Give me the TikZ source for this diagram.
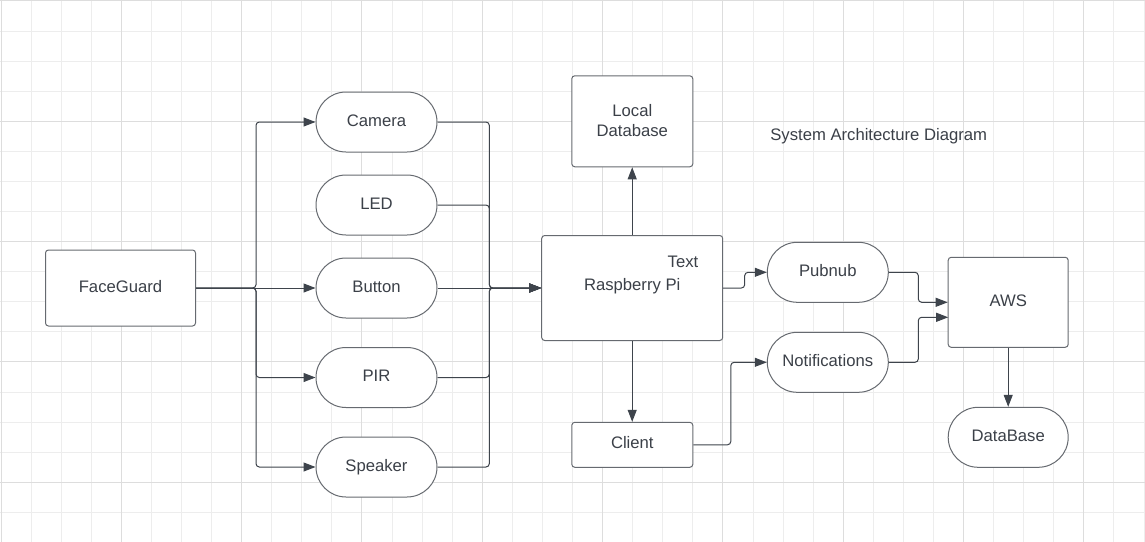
\documentclass[tikz,border=0pt]{standalone}
\usepackage{fontspec}
\setmainfont{Liberation Sans}
\usetikzlibrary{arrows.meta,shapes.misc}
\definecolor{gridminor}{HTML}{EDEDED}
\definecolor{gridmajor}{HTML}{DDDDDD}
\definecolor{shapeline}{HTML}{666A70}
\definecolor{connc}{HTML}{3E444C}
\definecolor{txt}{HTML}{3B4048}
\begin{document}
\begin{tikzpicture}[x=0.75pt,y=-0.75pt,
 every node/.style={font=\fontsize{12.5}{15}\selectfont, text=txt},
 one/.style={text height=9pt, text depth=3pt},
 box/.style={draw=shapeline, line width=0.75pt, fill=white, rounded corners=2.25pt, inner sep=0pt, align=center},
 pill/.style={draw=shapeline, line width=0.75pt, fill=white, rounded rectangle, minimum width=90.75pt, minimum height=45pt, inner sep=0pt, one},
 wire/.style={draw=connc, line width=0.75pt, rounded corners=2.5pt},
 arr/.style={wire, -{Triangle[length=9pt,width=6.75pt]}},
]
\useasboundingbox (0,0) rectangle (1145,542);
\fill[white] (0,0) rectangle (1145,542);
% grid
\foreach \i in {0,...,38} {
  \pgfmathsetmacro\gx{1+30.08*\i}
  \draw[gridminor, line width=0.75pt] (\gx,0) -- (\gx,542);
}
\foreach \j in {0,...,17} {
  \pgfmathsetmacro\gy{1+30.08*\j}
  \draw[gridminor, line width=0.75pt] (0,\gy) -- (1145,\gy);
}
\foreach \i in {0,4,...,36} {
  \pgfmathsetmacro\gx{1+30.08*\i}
  \draw[gridmajor, line width=0.75pt] (\gx,0) -- (\gx,542);
}
\foreach \j in {0,4,...,16} {
  \pgfmathsetmacro\gy{1+30.08*\j}
  \draw[gridmajor, line width=0.75pt] (0,\gy) -- (1145,\gy);
}
% nodes
\node[box, one, minimum width=112.5pt, minimum height=57pt] (fg) at (120.5,288) {FaceGuard};
\node[pill] (cam) at (376.5,122) {Camera};
\node[pill] (led) at (376.5,205) {LED};
\node[pill] (btn) at (376.5,288) {Button};
\node[pill] (pir) at (376.5,377.5) {PIR};
\node[pill] (spk) at (376.5,467) {Speaker};
\node[box, one, minimum width=135.75pt, minimum height=78.75pt] (rpi) at (632.2,288) {\raisebox{1.5pt}{Raspberry Pi}};
\node[one] (txtlbl) at (683,263) {Text};
\node[box, minimum width=90.75pt, minimum height=68.25pt] (ldb) at (632.3,121.3) {\raisebox{1.5pt}{Local}\\\raisebox{1.5pt}{Database}};
\node[box, one, minimum width=90.75pt, minimum height=33.75pt] (cli) at (632.3,444.8) {Client};
\node[pill] (pub) at (827.8,272.3) {Pubnub};
\node[pill] (noti) at (827.8,362.3) {Notifications};
\node[box, one, minimum width=90pt, minimum height=67.5pt] (aws) at (1008.2,302.3) {AWS};
\node[pill, minimum width=90pt] (db) at (1008.2,437.3) {DataBase};
\node[one] (title) at (878.7,136) {System Architecture Diagram};
% bus coordinates
\coordinate (lbus) at (256,288);
\coordinate (rbus) at (489.3,288);
\coordinate (awsin) at (948.2,317.3);
% connectors
\draw[arr] (fg.east) -- (lbus) |- (cam.west);
\draw[arr] (fg.east) -- (btn.west);
\draw[arr] (fg.east) -- (lbus) |- (pir.west);
\draw[arr] (fg.east) -- (lbus) |- (spk.west);
\draw[arr] (cam.east) -| (rbus) -- (rpi.west);
\draw[arr] (led.east) -| (rbus) -- (rpi.west);
\draw[arr] (btn.east) -- (rpi.west);
\draw[arr] (pir.east) -| (rbus) -- (rpi.west);
\draw[arr] (spk.east) -| (rbus) -- (rpi.west);
\draw[arr] (rpi.north) -- (rpi.north |- ldb.south);
\draw[arr] (rpi.south) -- (rpi.south |- cli.north);
\draw[arr] (rpi.east) -- ++(21.5,0) |- (pub.west);
\draw[arr] (cli.east) -- ++(37.5,0) |- (noti.west);
\draw[arr] (pub.east) -- ++(29.5,0) |- (aws.west);
\draw[arr] (noti.east) -- ++(29.5,0) |- (awsin);
\draw[arr] (aws.south) -- (db.north);
\end{tikzpicture}
\end{document}
